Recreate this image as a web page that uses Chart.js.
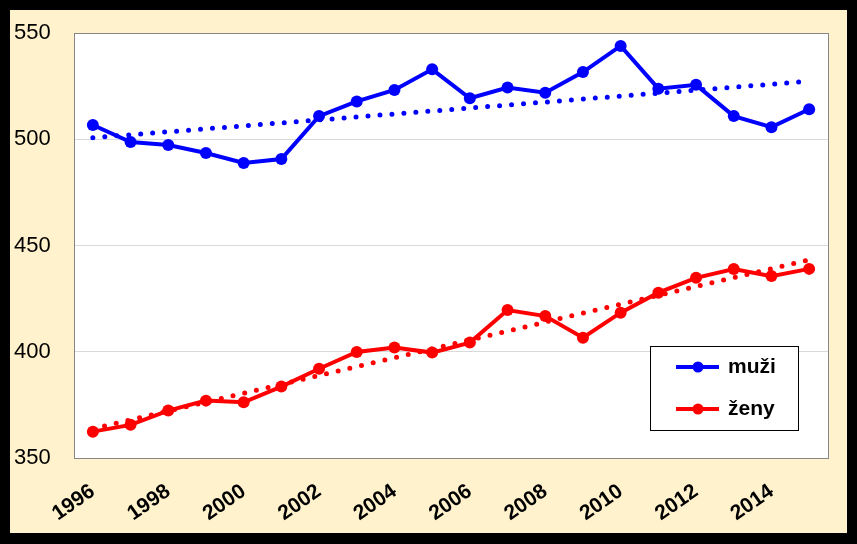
<!DOCTYPE html>
<html>
<head>
<meta charset="utf-8">
<script src="https://cdn.jsdelivr.net/npm/chart.js@4"></script>
<style>
  html, body { margin: 0; padding: 0; background: #000; }
  #frame { position: absolute; left: 10px; top: 10px; width: 837px; height: 523px; background: #FFF2CC; }
  canvas { display: block; }
</style>
</head>
<body>
<div id="frame"><canvas id="c" width="837" height="523"></canvas></div>
<script>
const years = ['1996','1997','1998','1999','2000','2001','2002','2003','2004','2005','2006','2007','2008','2009','2010','2011','2012','2013','2014','2015'];
const muzi = [506.7, 498.7, 497.3, 493.5, 488.8, 490.7, 510.9, 517.8, 523.2, 532.9, 519.3, 524.3, 521.9, 531.6, 543.9, 523.8, 525.6, 510.9, 505.7, 514.1];
const zeny = [362.4, 365.6, 372.3, 377.0, 376.2, 383.6, 392.0, 399.9, 402.0, 399.6, 404.3, 419.6, 416.8, 406.6, 418.4, 427.8, 434.8, 438.9, 435.6, 439.0];
// trend lines: first and last year values
const muziTrendEnds = [500.7, 527.3];
const zenyTrendEnds = [363.8, 443.2];
const yTicks = [350, 400, 450, 500, 550];
const seriesNames = ['muži', 'ženy'];

function endsToSeries(ends) {
  return years.map((y, i) => i === 0 ? ends[0] : (i === years.length - 1 ? ends[1] : null));
}

const BLUE = '#0000FF', RED = '#FF0000';
const FONT = "'Liberation Sans', Arial, sans-serif";

const bgPlugin = {
  id: 'bg',
  beforeDraw(chart) {
    const { ctx, chartArea: a } = chart;
    ctx.save();
    ctx.fillStyle = '#FFFFFF';
    ctx.fillRect(a.left, a.top, a.right - a.left, a.bottom - a.top);
    ctx.restore();
  },
  afterDraw(chart) {
    const { ctx, chartArea: a } = chart;
    ctx.save();
    ctx.strokeStyle = '#868686';
    ctx.lineWidth = 1;
    ctx.strokeRect(Math.round(a.left) + 0.5, Math.round(a.top) + 0.5, Math.round(a.right - a.left), Math.round(a.bottom - a.top));
    // legend box
    const bx = 640.5, by = 336.5, bw = 148, bh = 84;
    ctx.fillStyle = '#FFFFFF';
    ctx.fillRect(bx, by, bw, bh);
    ctx.strokeStyle = '#000000';
    ctx.lineWidth = 1;
    ctx.strokeRect(bx, by, bw, bh);
    const items = [
      { name: seriesNames[0], color: BLUE, y: 357 },
      { name: seriesNames[1], color: RED, y: 399 }
    ];
    items.forEach(it => {
      ctx.strokeStyle = it.color;
      ctx.lineWidth = 4;
      ctx.lineCap = 'butt';
      ctx.beginPath();
      ctx.moveTo(666, it.y);
      ctx.lineTo(709, it.y);
      ctx.stroke();
      ctx.fillStyle = it.color;
      ctx.beginPath();
      ctx.arc(688, it.y, 5.5, 0, Math.PI * 2);
      ctx.fill();
      ctx.fillStyle = '#000000';
      ctx.font = 'bold 21px ' + FONT;
      ctx.textBaseline = 'middle';
      ctx.textAlign = 'left';
      ctx.fillText(it.name, 718, it.y);
    });
    ctx.restore();
  }
};

new Chart(document.getElementById('c'), {
  type: 'line',
  data: {
    labels: years,
    datasets: [
      { label: 'trend muži', data: endsToSeries(muziTrendEnds), spanGaps: true, borderColor: BLUE, borderWidth: 5, borderDash: [0, 12], borderCapStyle: 'round', pointRadius: 0, fill: false },
      { label: 'trend ženy', data: endsToSeries(zenyTrendEnds), spanGaps: true, borderColor: RED, borderWidth: 5, borderDash: [0, 12], borderCapStyle: 'round', pointRadius: 0, fill: false },
      { label: seriesNames[0], data: muzi, borderColor: BLUE, backgroundColor: BLUE, borderWidth: 4, pointRadius: 6, pointBackgroundColor: BLUE, pointBorderWidth: 0, tension: 0 },
      { label: seriesNames[1], data: zeny, borderColor: RED, backgroundColor: RED, borderWidth: 4, pointRadius: 6, pointBackgroundColor: RED, pointBorderWidth: 0, tension: 0 }
    ]
  },
  options: {
    responsive: false,
    animation: false,
    events: [],
    layout: { padding: { top: 23, right: 19, left: 4, bottom: 0 } },
    plugins: { legend: { display: false }, tooltip: { enabled: false } },
    scales: {
      x: {
        offset: true,
        grid: { display: false, drawTicks: false },
        border: { display: false },
        afterFit(s) { s.height = 75; },
        ticks: {
          autoSkip: false,
          maxRotation: 35,
          minRotation: 35,
          padding: 21,
          color: '#000',
          font: { family: FONT, size: 21, weight: 'bold' },
          callback(v, i) { return i % 2 === 0 ? years[i] : ''; }
        }
      },
      y: {
        min: 350,
        max: 550,
        afterBuildTicks(s) { s.ticks = yTicks.map(v => ({ value: v })); },
        afterFit(s) { s.width = 60; },
        grid: { color: '#D9D9D9', lineWidth: 1, drawTicks: false },
        border: { display: false },
        ticks: {
          padding: 0,
          crossAlign: 'far',
          color: '#000',
          font: { family: FONT, size: 22 }
        }
      }
    }
  },
  plugins: [bgPlugin]
});
</script>
</body>
</html>
